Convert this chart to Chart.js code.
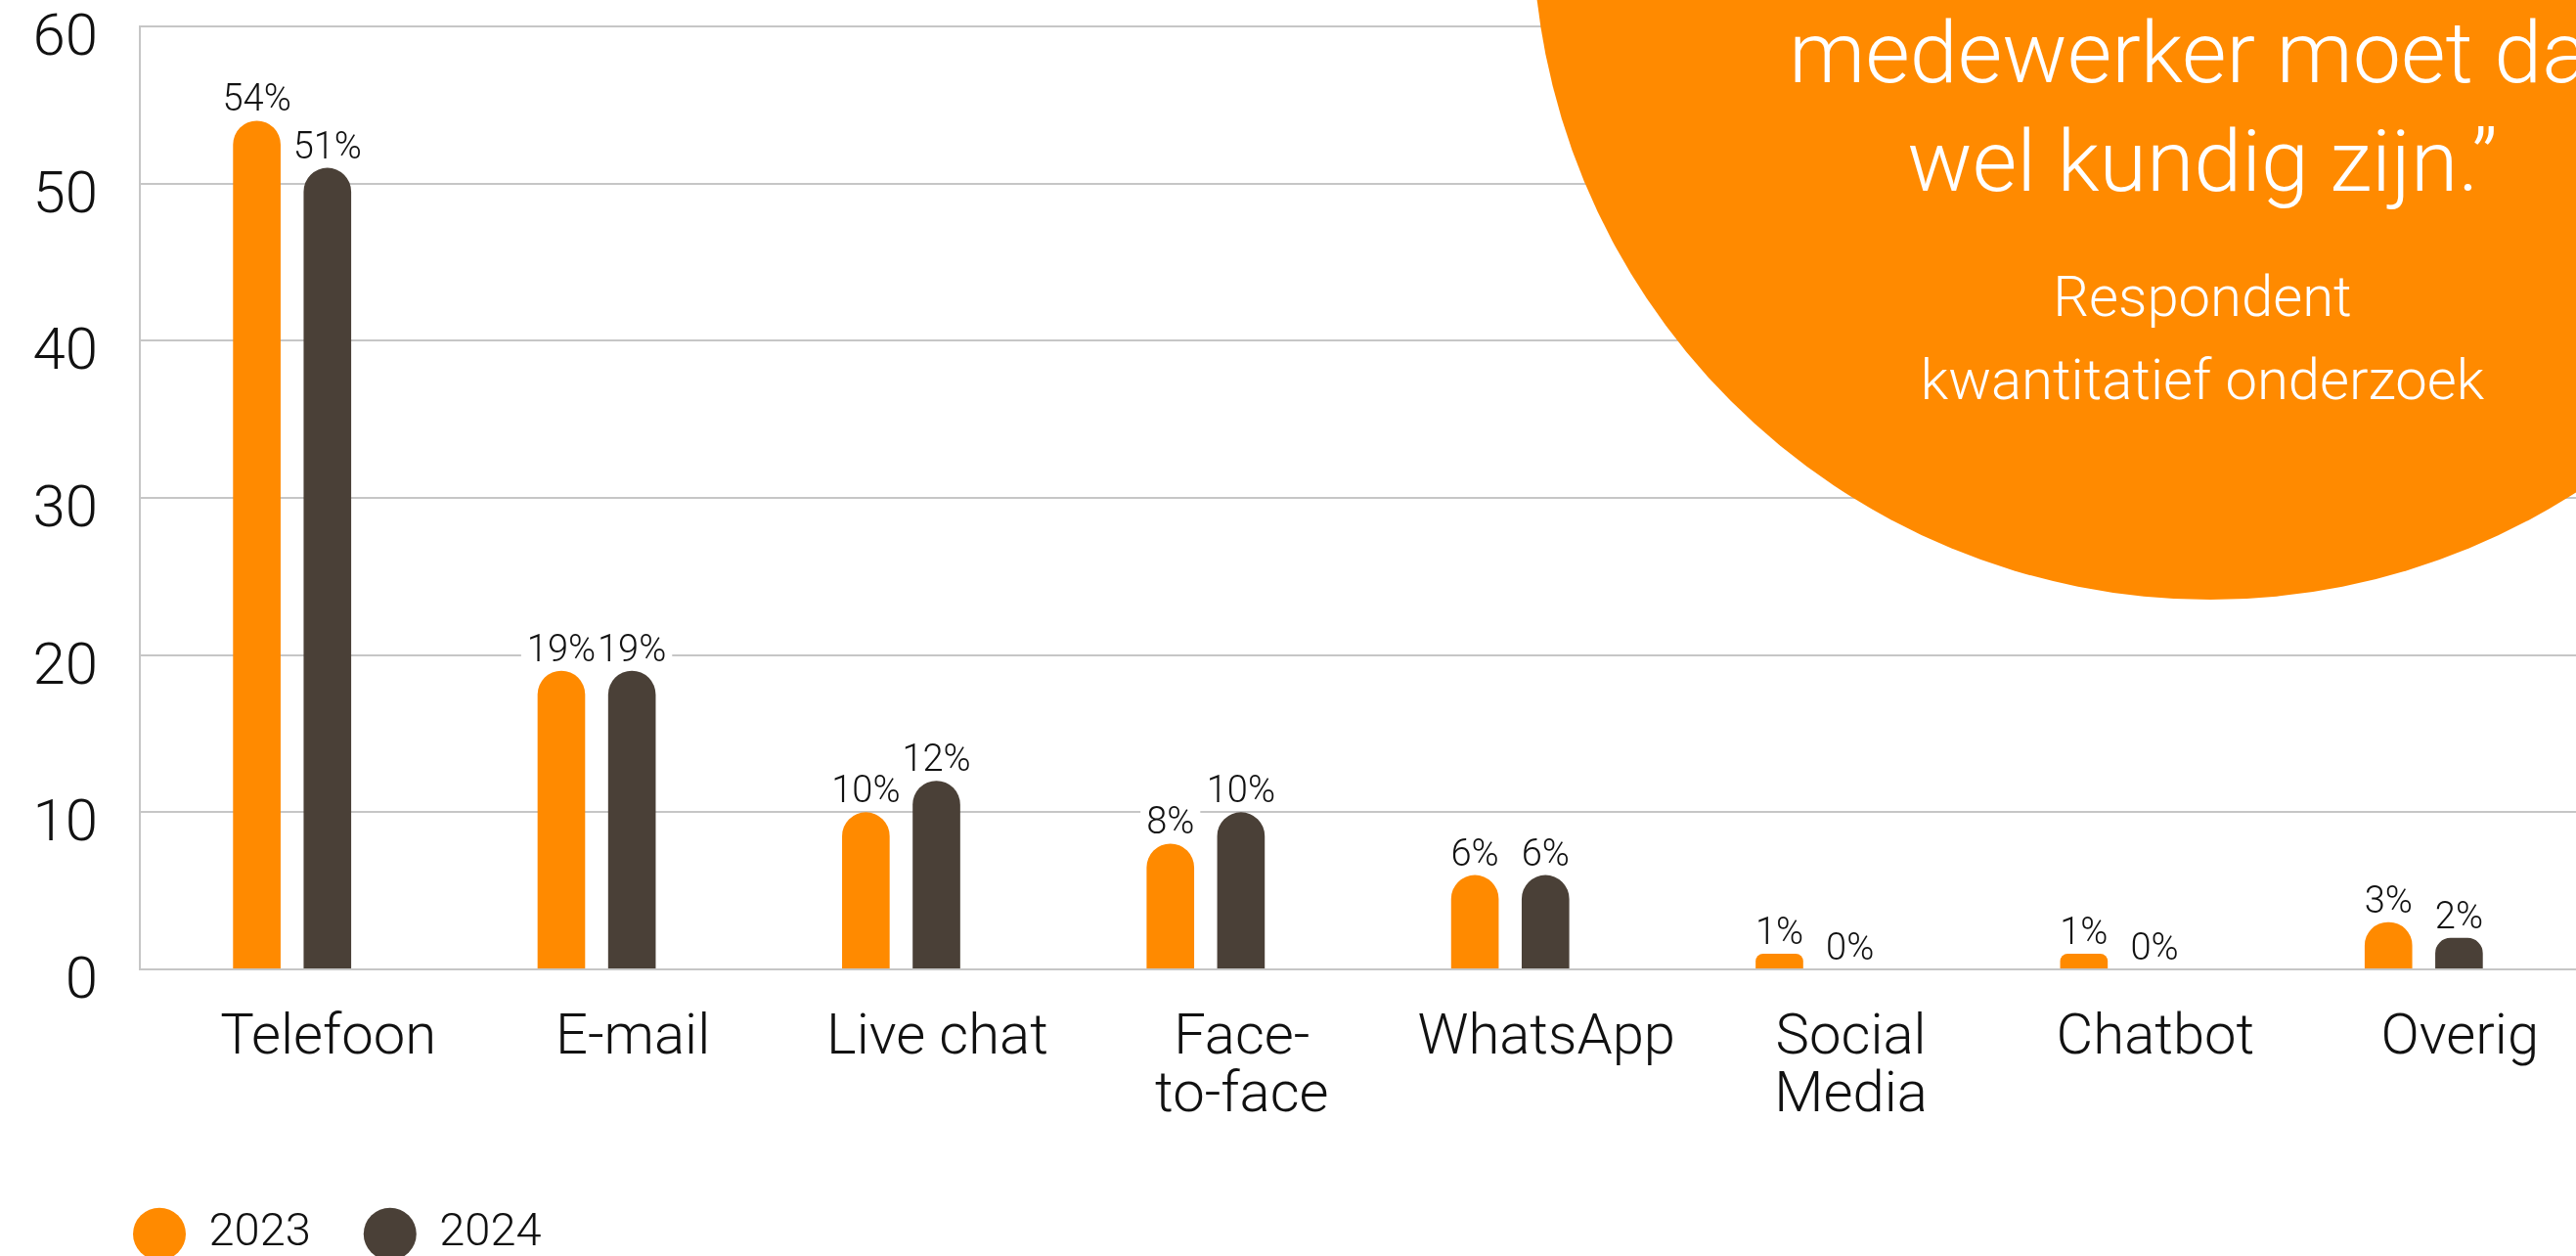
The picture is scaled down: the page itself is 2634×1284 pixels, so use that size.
<!DOCTYPE html>
<html lang="nl">
<head>
<meta charset="utf-8">
<title>Contactkanalen 2023 - 2024</title>
<script src="https://cdn.jsdelivr.net/npm/chart.js@4.4.1/dist/chart.umd.min.js"></script>
<style>
    html, body {
        margin: 0;
        padding: 0;
        background: #fff;
        width: 2634px;
        height: 1284px;
        overflow: hidden;
    }
    #wrap {
        position: absolute;
        left: 0;
        top: 0;
        width: 2634px;
        height: 1295px;
    }
    #quote {
        position: absolute;
        left: 1567px;
        top: -773px;
        width: 1386px;
        height: 1386px;
        border-radius: 50%;
        background: #ff8a00;
    }
    .q {
        position: absolute;
        left: 1652px;
        width: 1200px;
        text-align: center;
        color: #fff;
        font-family: Roboto, sans-serif;
        font-weight: 300;
        white-space: nowrap;
    }
    .q.big { font-size: 88px; line-height: 88px; }
    .q.small { font-size: 58px; line-height: 58px; }
</style>
</head>
<body>
<div id="wrap"><canvas id="channels-chart"></canvas></div>
<div id="quote"></div>
<div class="q big" style="top:10px">medewerker moet dat</div>
<div class="q big" style="top:121px">wel kundig zijn.”</div>
<div class="q small" style="top:274px">Respondent</div>
<div class="q small" style="top:359px">kwantitatief onderzoek</div>

<script>
const categories = ['Telefoon', 'E-mail', 'Live chat', ['Face-', 'to-face'], 'WhatsApp', ['Social', 'Media'], 'Chatbot', 'Overig'];
const seriesNames = ['2023', '2024'];
const values2023 = [54, 19, 10, 8, 6, 1, 1, 3];
const values2024 = [51, 19, 12, 10, 6, 0, 0, 2];
const yTicks = [0, 10, 20, 30, 40, 50, 60];

const ORANGE = '#ff8a00';
const BROWN = '#4a4037';
const GRID = '#c6c6c6';

Chart.defaults.font.family = 'Roboto, sans-serif';
Chart.defaults.font.weight = 300;
Chart.defaults.color = '#111';

// percentage labels above each bar; white box first so gridlines break behind the text
function drawValueLabels(chart, background) {
    const ctx = chart.ctx;
    ctx.save();
    ctx.font = '300 38px Roboto, sans-serif';
    ctx.textAlign = 'center';
    ctx.textBaseline = 'alphabetic';
    chart.data.datasets.forEach((ds, i) => {
        chart.getDatasetMeta(i).data.forEach((bar, j) => {
            const text = ds.data[j] + '%';
            const base = bar.y - 10;
            if (background) {
                const w = ctx.measureText(text).width;
                ctx.fillStyle = '#fff';
                ctx.fillRect(bar.x - w / 2 - 6, base - 31, w + 12, 37);
            } else {
                ctx.fillStyle = '#111';
                ctx.fillText(text, bar.x, base);
            }
        });
    });
    ctx.restore();
}

const valueLabels = {
    id: 'valueLabels',
    beforeDatasetsDraw(chart) { drawValueLabels(chart, true); },
    afterDatasetsDraw(chart) { drawValueLabels(chart, false); }
};

// legend row sits a little in from the left edge, under the y axis
const legendShift = {
    id: 'legendShift',
    afterLayout(chart) { chart.legend.left = 82; }
};

const barStyle = {
    borderWidth: 0,
    borderRadius: { topLeft: 25, topRight: 25, bottomLeft: 0, bottomRight: 0 },
    borderSkipped: 'bottom',
    categoryPercentage: 0.4635,
    barPercentage: 0.674
};

new Chart(document.getElementById('channels-chart'), {
    type: 'bar',
    data: {
        labels: categories,
        datasets: [
            Object.assign({ label: seriesNames[0], data: values2023, backgroundColor: ORANGE }, barStyle),
            Object.assign({ label: seriesNames[1], data: values2024, backgroundColor: BROWN }, barStyle)
        ]
    },
    options: {
        responsive: true,
        maintainAspectRatio: false,
        animation: false,
        layout: { padding: { left: 0, top: 27, right: 0, bottom: 0 } },
        plugins: {
            tooltip: { enabled: false },
            legend: {
                position: 'bottom',
                align: 'start',
                labels: {
                    usePointStyle: true,
                    pointStyle: 'circle',
                    boxHeight: 38,
                    pointStyleWidth: 54,
                    padding: 54,
                    color: '#111',
                    font: { size: 47, weight: 300 }
                }
            }
        },
        scales: {
            x: {
                grid: { display: false },
                border: { display: true, color: GRID, width: 2 },
                ticks: {
                    padding: 34,
                    labelOffset: 37,
                    maxRotation: 0,
                    autoSkip: false,
                    font: { size: 58, weight: 300, lineHeight: 1.02 }
                },
                afterFit(scale) { scale.height = 193; }
            },
            y: {
                min: 0,
                max: 60,
                afterBuildTicks(scale) { scale.ticks = yTicks.map(v => ({ value: v })); },
                grid: { color: GRID, lineWidth: 2, drawTicks: false },
                border: { display: true, color: GRID, width: 2 },
                ticks: {
                    padding: 43,
                    labelOffset: 14,
                    font: { size: 60, weight: 300 }
                },
                afterFit(scale) {
                    scale.width = 143;
                    scale.paddingTop = 0;
                    scale.paddingBottom = 0;
                }
            }
        }
    },
    plugins: [valueLabels, legendShift]
});
</script>
</body>
</html>
